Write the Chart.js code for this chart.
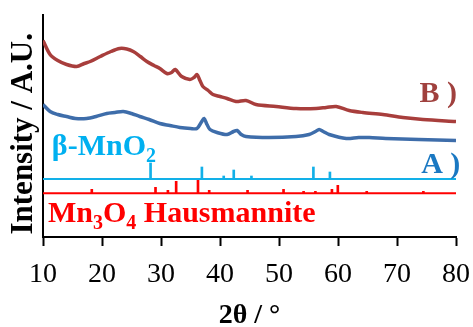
<!DOCTYPE html>
<html lang="en">
<head>
<meta charset="UTF-8">
<title>XRD patterns</title>
<style>
body { margin:0; padding:0; background:#fff; }
#wrap { width:473px; height:327px; }
</style>
</head>
<body>
<div id="wrap"><canvas id="xrd" width="473" height="327"></canvas></div>
<script src="https://cdn.jsdelivr.net/npm/chart.js"></script>
<script>
// measured patterns (2theta, intensity in arbitrary units)
const twoThetaB = [10,11.2,12.5,14,15.7,17,18,19.7,21.5,23,24.2,25.3,26.5,27.6,28.8,29.8,31,31.8,32.4,33.5,34.9,35.6,36.1,36.6,37.1,38,38.8,40,41.2,42.7,44.4,46.1,49.5,52.9,56.3,58,59.7,61.9,64.2,67.6,71,74.4,80];
const intensityB = [196.5,182.5,176.5,172.5,170.5,173.5,175.5,180.5,185.5,188.5,188,185.5,180.5,175.5,171.5,168.5,163.5,164.5,167.5,160.5,157.5,159.5,162.5,156.5,150.5,146.5,142.5,140.5,138.5,135.5,136.5,132.5,130.5,128.5,128.5,129.5,130.5,126.5,124.5,122.5,119.5,117.5,115.5];

const twoThetaA = [10,11.2,12.5,14,15.5,17.4,19,20.8,22.2,23.6,25,26.4,28,29.8,31.5,33.2,35,36.1,36.8,37.3,37.8,38.3,39.5,41.2,42.3,42.9,43.6,44.4,48.3,52.9,55.1,56.2,56.8,57.5,58.5,61.4,63.5,65.3,68.1,73.7,80];
const intensityA = [132.5,125.5,122.5,120.5,118.5,118.5,120.5,123.5,124.5,125.5,123.5,120.5,117.5,113.5,111.5,109.5,108.5,108.5,114.5,118.5,112.5,107.5,104.5,102.5,105.5,106.5,102.5,100.5,99.5,100.5,102.5,105.5,107.5,105.5,102.5,98.5,99.5,99.5,98.5,97.5,96.5];

// reference sticks
const mno2Pos = [28.4,37.1,40.8,42.5,45.5,56.0,58.8];
const mno2Height = [16,12,3,9,3,12,7];
const mno2Base = 58;

const mn3o4Pos = [18.1,28.9,31.0,32.4,36.1,38.0,44.5,50.6,54.0,56.0,58.8,59.8,64.7,74.3];
const mn3o4Height = [4,6,3,12,15,3,3,4,2,2,4,8,2,2];
const mn3o4Base = 43.7;

const xTicks = [10,20,30,40,50,60,70,80];

const serif = "'Liberation Serif', 'Times New Roman', serif";
Chart.defaults.font.family = serif;

function pts(xs, ys) { return xs.map((x, i) => ({x: x, y: ys[i]})); }
function sticks(xs, hs, base) { return xs.map((x, i) => ({x: x, y: [base, base + hs[i]]})); }

// labels drawn on the plot
const labels = [
  {parts:[['B )','']], x:73.8, y:135.5, color:'#A0413E'},
  {parts:[['A )','']], x:74.1, y:64.5, color:'#1A78C2'},
  {parts:[['\u03b2-MnO',''],['2','sub']], x:11.5, y:82.5, color:'#00B0F0'},
  {parts:[['Mn',''],['3','sub'],['O',''],['4','sub'],[' Hausmannite','']], x:10.85, y:15.5, color:'#FF0000'}
];

const textPlugin = {
  id: 'textLabels',
  afterDatasetsDraw(chart) {
    const ctx = chart.ctx;
    const xs = chart.scales.x, ys = chart.scales.y;
    ctx.save();
    ctx.textBaseline = 'alphabetic';
    labels.forEach(l => {
      let px = xs.getPixelForValue(l.x);
      const py = ys.getPixelForValue(l.y);
      ctx.fillStyle = l.color;
      l.parts.forEach(p => {
        const sub = p[1] === 'sub';
        ctx.font = 'bold ' + (sub ? 20 : 30) + 'px ' + serif;
        ctx.fillText(p[0], px, py + (sub ? 7 : 0));
        px += ctx.measureText(p[0]).width;
      });
    });
    ctx.restore();
  }
};

new Chart(document.getElementById('xrd').getContext('2d'), {
  type: 'line',
  data: {
    datasets: [
      {type:'line', data: pts(twoThetaB, intensityB), borderColor:'#A83E3C', borderWidth:3.5, pointRadius:0, tension:0.3, fill:false},
      {type:'line', data: pts(twoThetaA, intensityA), borderColor:'#3E6DAA', borderWidth:3.5, pointRadius:0, tension:0.3, fill:false},
      {type:'line', data: [{x:10,y:mno2Base},{x:80,y:mno2Base}], borderColor:'#12B0E8', borderWidth:2, pointRadius:0},
      {type:'line', data: [{x:10,y:mn3o4Base},{x:80,y:mn3o4Base}], borderColor:'#FF0000', borderWidth:2, pointRadius:0},
      {type:'bar', data: sticks(mno2Pos, mno2Height, mno2Base), backgroundColor:'#12B0E8', barThickness:2, borderWidth:0},
      {type:'bar', data: sticks(mn3o4Pos, mn3o4Height, mn3o4Base), backgroundColor:'#FF0000', barThickness:2, borderWidth:0}
    ]
  },
  options: {
    responsive: false,
    animation: false,
    layout: { padding: {top:15, right:17, left:0, bottom:0} },
    plugins: { legend:{display:false}, tooltip:{enabled:false} },
    scales: {
      x: {
        type: 'linear', min: 10, max: 80, offset: false,
        afterBuildTicks: s => { s.ticks = xTicks.map(v => ({value: v})); },
        afterFit: s => { s.height = 90; s.paddingLeft = 0; s.paddingRight = 0; },
        grid: { drawOnChartArea:false, drawTicks:true, tickLength:9, tickColor:'#000', tickWidth:2, offset:false },
        border: { color:'#000', width:2 },
        ticks: { color:'#000', font:{family:serif, size:28}, padding:12, maxRotation:0 },
        title: { display:true, text:'2\u03b8 / \u00b0', color:'#000', font:{family:serif, size:28, weight:'bold', lineHeight:0.8}, padding:{top:0, bottom:0} }
      },
      y: {
        type: 'linear', min: 0, max: 222,
        afterFit: s => { s.width = 43; },
        grid: { display:false },
        border: { color:'#000', width:2 },
        ticks: { display:false },
        title: { display:true, text:'Intensity / A.U.\u00a0\u00a0', color:'#000', font:{family:serif, size:31, weight:'bold', lineHeight:1}, padding:{top:8, bottom:0} }
      }
    }
  },
  plugins: [textPlugin]
});
</script>
</body>
</html>
